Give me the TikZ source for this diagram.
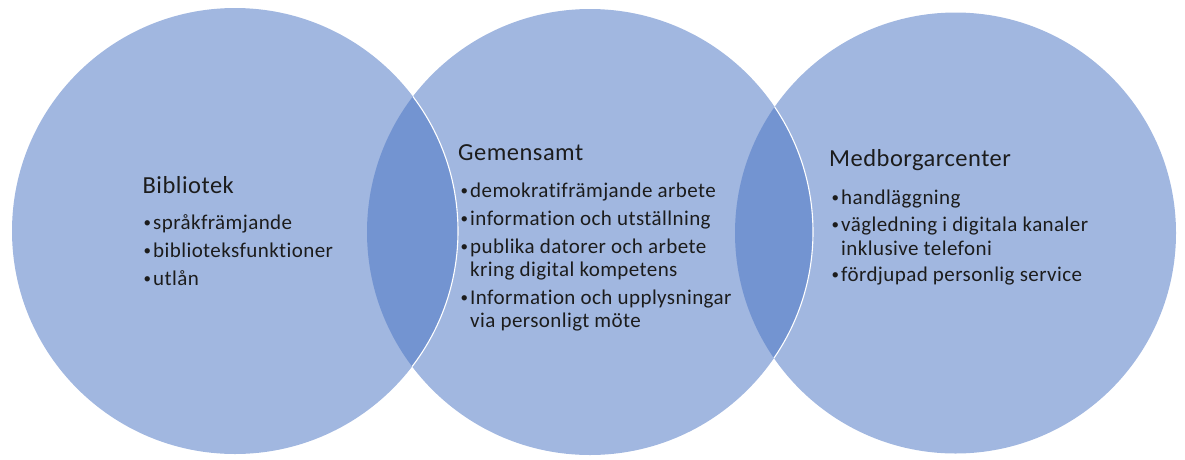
\documentclass[tikz,border=0pt]{standalone}
\usepackage{fontspec}
\setmainfont{Carlito}[Ligatures=NoCommon, LetterSpace=2]
\definecolor{vfill}{HTML}{A1B7E0}
\definecolor{vlens}{HTML}{7394D1}
\definecolor{txt}{HTML}{1C1C1C}
\newcommand{\vbul}{\makebox[9.5pt][l]{\raisebox{1.6pt}{\fontsize{15}{15}\selectfont •}}}
\begin{document}
\begin{tikzpicture}[x=1pt,y=-1pt,
  venn/.style={circle, fill=vfill, inner sep=0pt, draw=none},
  lens/.style={fill=vlens},
  rim/.style={draw=white, line width=1.1pt},
  ttl/.style={anchor=base west, inner sep=0pt, font=\fontsize{24.5}{28}\selectfont, text=txt},
  itm/.style={anchor=base west, inner sep=0pt, font=\fontsize{21}{24}\selectfont, text=txt}]
\useasboundingbox (0,0) rectangle (1185,459);
% circles
\node[venn, minimum size=446pt] (L) at (235,231) {};
\node[venn, minimum size=446pt] (M) at (590,232) {};
\node[venn, minimum size=441pt] (R) at (955.5,233) {};
% overlaps
\begin{scope}
  \clip (L.center) circle[radius=223pt];
  \fill[lens] (M.center) circle[radius=223pt];
\end{scope}
\begin{scope}
  \clip (M.center) circle[radius=223pt];
  \fill[lens] (R.center) circle[radius=220.5pt];
\end{scope}
% white rims inside the overlaps
\begin{scope}
  \clip (M.center) circle[radius=223pt];
  \draw[rim] (L.center) circle[radius=223pt];
\end{scope}
\begin{scope}
  \clip (R.center) circle[radius=220.5pt];
  \draw[rim] (M.center) circle[radius=223pt];
\end{scope}
% Bibliotek
\node[ttl] (bt) at (142.5,193) {Bibliotek};
\node[itm] (b1) at (143.5,229) {\vbul språkfrämjande};
\node[itm] (b2) at (143.5,257) {\vbul biblioteksfunktioner};
\node[itm] (b3) at (143.5,285) {\vbul utlån};
% Gemensamt
\node[ttl] (gt) at (458,160.5) {Gemensamt};
\node[itm] (g1) at (460.5,197) {\vbul demokratifrämjande arbete};
\node[itm] (g2) at (460.5,225) {\vbul information och utställning};
\node[itm] (g3) at (460.5,253) {\vbul publika datorer och arbete};
\node[itm] (g3b) at (470,276) {kring digital kompetens};
\node[itm] (g4) at (460.5,304) {\vbul Information och upplysningar};
\node[itm] (g4b) at (470,327) {via personligt möte};
% Medborgarcenter
\node[ttl] (mt) at (829,166.5) {Medborgarcenter};
\node[itm] (m1) at (831.5,204) {\vbul handläggning};
\node[itm] (m2) at (831.5,231.5) {\vbul vägledning i digitala kanaler};
\node[itm] (m2b) at (841,255) {inklusive telefoni};
\node[itm] (m3) at (831.5,281.5) {\vbul fördjupad personlig service};
\end{tikzpicture}
\end{document}
